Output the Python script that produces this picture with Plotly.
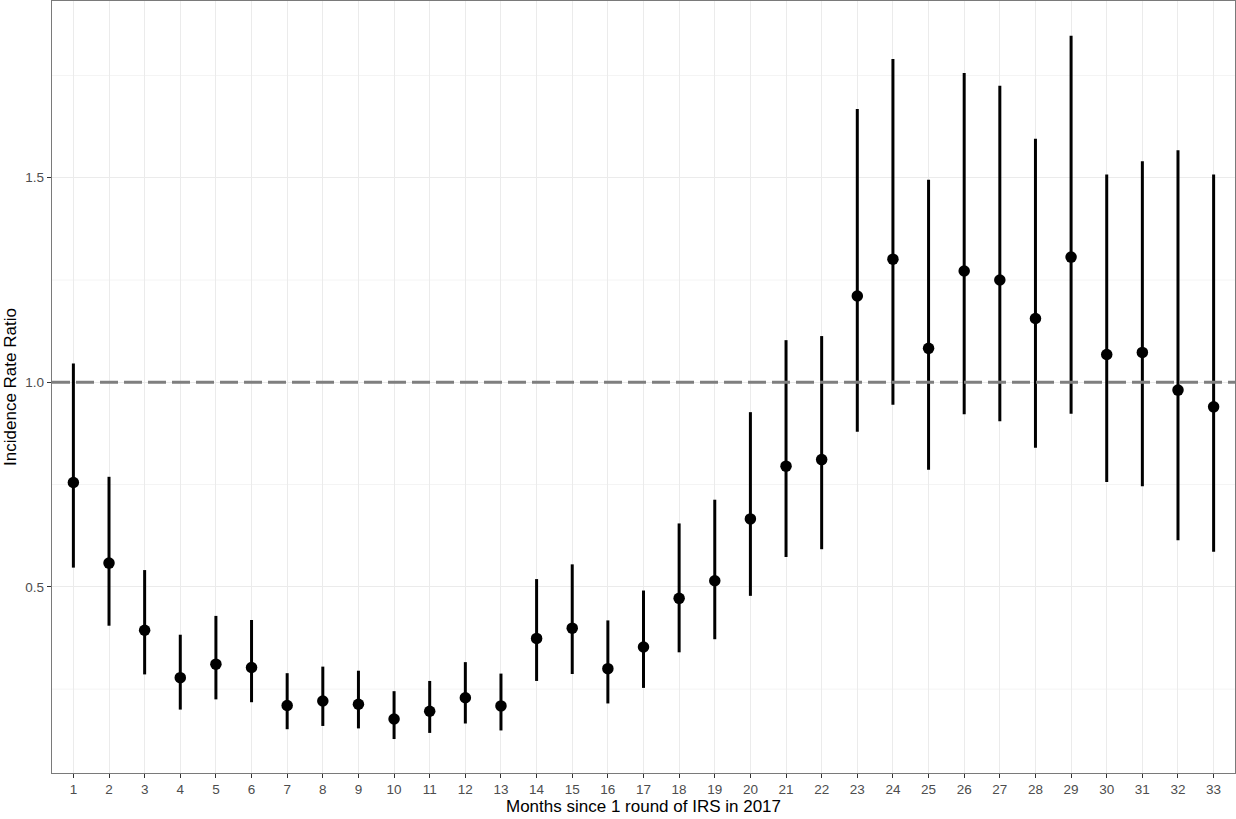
import plotly.graph_objects as go

months = list(range(1, 34))
irr = [0.755, 0.558, 0.394, 0.278, 0.311, 0.303, 0.210, 0.221, 0.213, 0.177,
       0.196, 0.229, 0.209, 0.374, 0.399, 0.300, 0.353, 0.472, 0.515, 0.666,
       0.795, 0.811, 1.211, 1.301, 1.083, 1.272, 1.250, 1.156, 1.306, 1.068,
       1.073, 0.981, 0.940]
lower = [0.547, 0.405, 0.286, 0.200, 0.225, 0.218, 0.152, 0.160, 0.154, 0.128,
         0.143, 0.166, 0.149, 0.270, 0.287, 0.215, 0.253, 0.340, 0.372, 0.478,
         0.573, 0.592, 0.879, 0.945, 0.786, 0.922, 0.905, 0.840, 0.923, 0.756,
         0.746, 0.614, 0.586]
upper = [1.046, 0.769, 0.541, 0.383, 0.429, 0.419, 0.289, 0.305, 0.295, 0.245,
         0.270, 0.316, 0.288, 0.519, 0.555, 0.418, 0.491, 0.655, 0.713, 0.927,
         1.103, 1.113, 1.668, 1.790, 1.495, 1.756, 1.725, 1.595, 1.847, 1.508,
         1.540, 1.567, 1.508]
y_ticks = [0.5, 1.0, 1.5]
y_tick_labels = ["0.5", "1.0", "1.5"]
reference_line = 1.0

err_plus = [u - v for u, v in zip(upper, irr)]
err_minus = [v - l for v, l in zip(irr, lower)]

fig = go.Figure()
fig.add_trace(go.Scatter(
    x=months, y=irr, mode="markers",
    marker=dict(color="black", size=11.5, symbol="circle"),
    error_y=dict(type="data", symmetric=False, array=err_plus, arrayminus=err_minus,
                 color="black", thickness=3, width=0),
    showlegend=False, hoverinfo="skip",
))

fig.add_shape(type="line", xref="paper", x0=0, x1=1, yref="y",
              y0=reference_line, y1=reference_line,
              line=dict(color="#7f7f7f", width=3, dash="18px,6px"), layer="above")

minor_vals = [0.25, 0.75, 1.25, 1.75]
for mv in minor_vals:
    fig.add_shape(type="line", xref="paper", x0=0, x1=1, yref="y", y0=mv, y1=mv,
                  line=dict(color="#F4F4F4", width=1), layer="below")

font_family = "Liberation Sans, Arial, sans-serif"
fig.update_layout(
    width=1236, height=819,
    margin=dict(l=52, r=1, t=1, b=46),
    plot_bgcolor="white", paper_bgcolor="white",
    font=dict(family=font_family, color="black"),
    xaxis=dict(
        range=[0.4, 33.6], tickmode="array", tickvals=months,
        ticktext=[str(m) for m in months], automargin=False,
        showgrid=True, gridcolor="#EBEBEB", gridwidth=1.2, zeroline=False,
        showline=True, linecolor="#7a7a7a", linewidth=1.3, mirror=True,
        ticks="outside", ticklen=4, tickcolor="#333333", tickwidth=1.3,
        tickfont=dict(size=13.5, color="#4d4d4d", family=font_family),
        title=dict(text="Months since 1 round of IRS in 2017",
                   font=dict(size=17, color="black", family=font_family), standoff=3),
    ),
    yaxis=dict(
        range=[0.045, 1.932], tickmode="array", tickvals=y_ticks, ticktext=y_tick_labels,
        automargin=False,
        showgrid=True, gridcolor="#EBEBEB", gridwidth=1.2, zeroline=False,
        showline=True, linecolor="#7a7a7a", linewidth=1.3, mirror=True,
        ticks="outside", ticklen=4, tickcolor="#333333", tickwidth=1.3,
        tickfont=dict(size=13.5, color="#4d4d4d", family=font_family),
        title=dict(text="Incidence Rate Ratio",
                   font=dict(size=17, color="black", family=font_family), standoff=4),
    ),
)

fig.write_html("out.html", config={"displayModeBar": False},
               post_script="document.body.style.margin='0';document.body.style.overflow='hidden';")
